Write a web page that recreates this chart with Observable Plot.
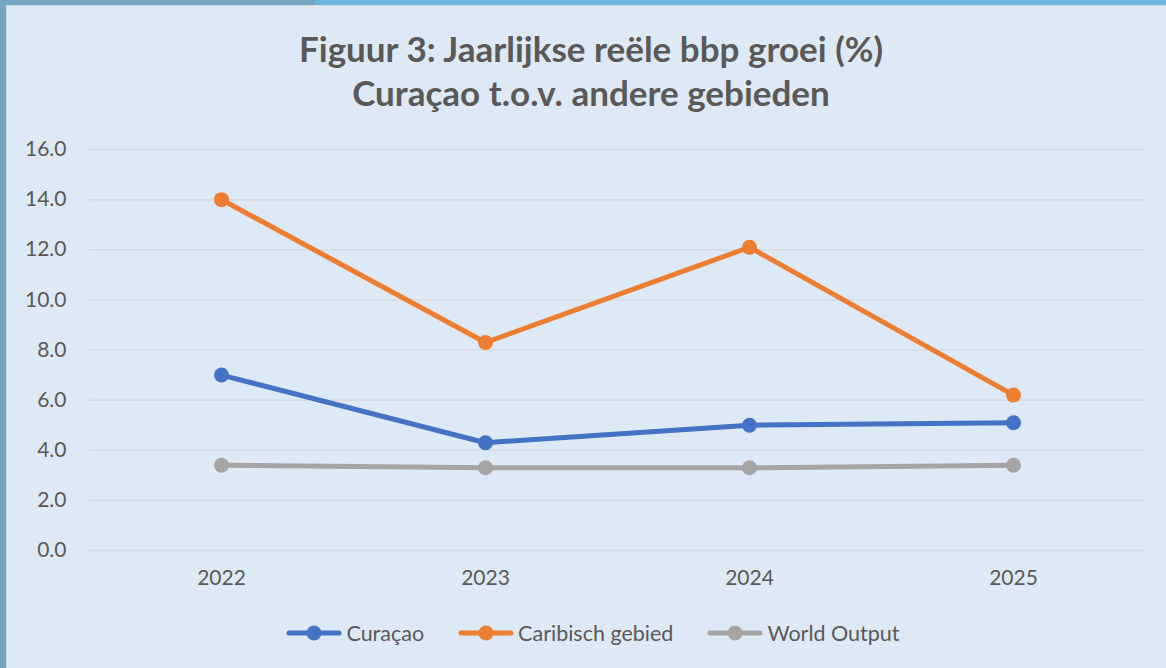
<!DOCTYPE html>
<html>
<head>
<meta charset="utf-8">
<script src="https://cdn.jsdelivr.net/npm/d3@7"></script>
<script src="https://cdn.jsdelivr.net/npm/@observablehq/plot@0.6"></script>
<style>
  html, body { margin: 0; padding: 0; }
  #wrap { position: relative; width: 1166px; height: 668px; background: #dde9f5; overflow: hidden; font-family: Lato, "Open Sans", sans-serif; color: #595959; }
  #topbar { position: absolute; left: 0; top: 0; width: 1166px; height: 5px; background: linear-gradient(100deg, #74a6c4 0, #74a6c4 310px, #6cb9dc 312px, #6cb9dc 100%); }
  #leftbar { position: absolute; left: 0; top: 0; width: 6px; height: 668px; background: #74a6c4; }
  #innerline { position: absolute; left: 6px; top: 5px; right: 0; bottom: 0; border-left: 1px solid #cfd8e2; border-top: 1px solid #cfd8e2; }
  #title { position: absolute; left: 0; width: 1182px; top: 26px; text-align: center; font-weight: 700; font-size: 35px; line-height: 44px; color: #595959; }
  #chart { position: absolute; left: 0; top: 120px; }
  #legend { position: absolute; left: 0; width: 1186px; top: 620px; display: flex; justify-content: center; gap: 34px; font-size: 21.5px; color: #595959; }
  .item { display: flex; align-items: center; }
  .item svg { margin-right: 4px; }
</style>
</head>
<body>
<div id="wrap">
  <div id="topbar"></div>
  <div id="leftbar"></div>
  <div id="innerline"></div>
  <div id="title">Figuur 3: Jaarlijkse reële bbp groei (%)<br>Curaçao t.o.v. andere gebieden</div>
  <div id="chart"></div>
  <div id="legend"></div>
</div>
<script>
const years = ["2022", "2023", "2024", "2025"];
const seriesNames = ["Curaçao", "Caribisch gebied", "World Output"];
const seriesColors = ["#4472c4", "#ed7d31", "#a5a5a5"];
const curacao = [7.0, 4.3, 5.0, 5.1];
const caribisch = [14.0, 8.3, 12.1, 6.2];
const world = [3.4, 3.3, 3.3, 3.4];
const yTicks = [0, 2, 4, 6, 8, 10, 12, 14, 16];

const seriesValues = [curacao, caribisch, world];
const data = [];
seriesNames.forEach((s, i) => years.forEach((y, j) => data.push({series: s, year: y, value: seriesValues[i][j]})));

const plot = Plot.plot({
  width: 1166,
  height: 480,
  marginTop: 29,
  marginBottom: 50,
  marginLeft: 89,
  marginRight: 21,
  style: {background: "transparent", fontFamily: "Lato, 'Open Sans', sans-serif", fontSize: "21px", color: "#595959"},
  x: {type: "point", domain: years, padding: 0.5, label: null, tickSize: 0, tickPadding: 20},
  y: {domain: [0, 16], ticks: yTicks, tickFormat: d => d.toFixed(1), label: null, tickSize: 0, tickPadding: 23},
  color: {domain: seriesNames, range: seriesColors},
  marks: [
    Plot.gridY(yTicks, {stroke: "#d6dbe0", strokeOpacity: 1, strokeWidth: 1.5}),
    Plot.line(data, {x: "year", y: "value", z: "series", stroke: "series", strokeWidth: 5, strokeLinejoin: "round"}),
    Plot.dot(data, {x: "year", y: "value", fill: "series", r: 7.5})
  ]
});
document.getElementById("chart").appendChild(plot);

const legend = document.getElementById("legend");
seriesNames.forEach((s, i) => {
  const item = document.createElement("div");
  item.className = "item";
  item.innerHTML = `<svg width="56" height="20"><line x1="3" x2="53" y1="10" y2="10" stroke="${seriesColors[i]}" stroke-width="5" stroke-linecap="round"/><circle cx="28" cy="10" r="7.5" fill="${seriesColors[i]}"/></svg><span>${s}</span>`;
  legend.appendChild(item);
});
</script>
</body>
</html>
